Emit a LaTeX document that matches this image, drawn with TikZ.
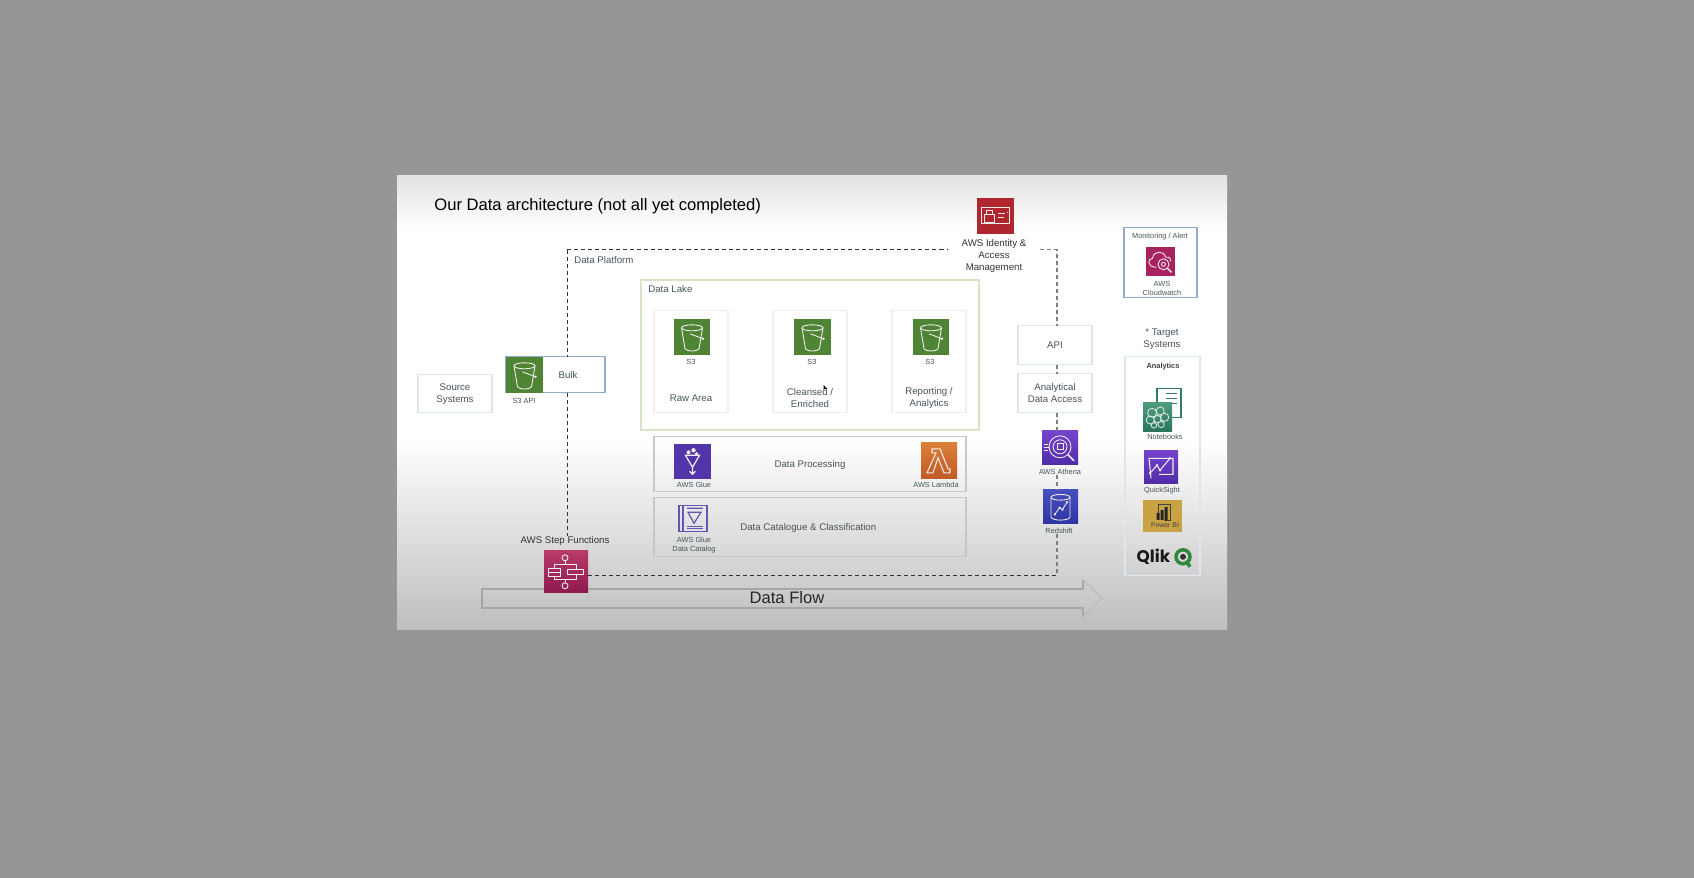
\documentclass[tikz,border=0pt]{standalone}
\usepackage{fontspec}
\setmainfont{Liberation Sans}
\newfontfamily\qlikfont{Poppins}
\usetikzlibrary{positioning}

\definecolor{pagegrey}{HTML}{969696}
\definecolor{slidetop}{HTML}{E2E2E2}
\definecolor{slidebot}{HTML}{BEBEBE}
\definecolor{labelink}{HTML}{45545C}
\definecolor{paleblue}{HTML}{DCE6F0}
\definecolor{midblue}{HTML}{95A8CE}
\definecolor{palegreen}{HTML}{D6E5C6}
\definecolor{paleorange}{HTML}{F6EDE6}
\definecolor{dashgrey}{HTML}{7E7E7E}
\definecolor{lakegreen}{HTML}{4F8434}
\definecolor{iamred}{HTML}{B0262F}
\definecolor{glyphink}{HTML}{F2ECEC}
\definecolor{cataloginv}{HTML}{6656B2}
\definecolor{gluepurple}{HTML}{5235A8}
\definecolor{lambdatop}{HTML}{DC7F38}
\definecolor{lambdabot}{HTML}{C05A24}
\definecolor{steptop}{HTML}{B73A6A}
\definecolor{stepbot}{HTML}{8E1A4E}
\definecolor{watchred}{HTML}{A8225F}
\definecolor{lenstop}{HTML}{7444CC}
\definecolor{lensbot}{HTML}{4F2CA8}
\definecolor{shifttop}{HTML}{4750C0}
\definecolor{shiftbot}{HTML}{2E35A2}
\definecolor{powergold}{HTML}{C9A343}
\definecolor{notetop}{HTML}{4E9C7C}
\definecolor{notebot}{HTML}{27765A}
\definecolor{notegreen}{HTML}{2F7F60}
\definecolor{qlikgreen}{HTML}{2F8A3C}

\pgfdeclareverticalshading{slideshade}{100bp}{color(0bp)=(slidebot); color(25bp)=(slidebot); color(46bp)=(white); color(69bp)=(white); color(75bp)=(slidetop); color(100bp)=(slidetop)}

\tikzset{
    sized/.style 2 args={minimum width=#1*0.02cm, minimum height=#2*0.02cm, inner sep=0pt, outer sep=0pt},
    lbl/.style={inner sep=0pt, yshift=-0.15pt, align=center, text=labelink, font=\fontsize{5.5}{6.8}\selectfont},
    tinylbl/.style={inner sep=0pt, yshift=-0.25pt, align=center, text=labelink, font=\fontsize{4.2}{5.1}\selectfont},
    darklbl/.style={lbl, text=black!80},
    softbox/.style={draw=paleblue, line width=0.6pt},
    stagebox/.style={draw=paleorange, line width=0.6pt},
    greybox/.style={draw=black!22, line width=0.6pt},
    blueedge/.style={draw=midblue, line width=0.7pt},
    flowedge/.style={draw=black!35, line width=0.8pt},
    platformline/.style={line width=0.55pt, dash pattern=on 2.3pt off 1.7pt, draw=black!80},
    rightline/.style={line width=0.7pt, dash pattern=on 2.3pt off 1.7pt, draw=dashgrey},
    glyph/.style={draw=glyphink, line width=0.5pt},
    bucket/.pic={
        \draw[glyph] (0,-9) ellipse [x radius=10.5, y radius=3];
        \draw[glyph] (-10.5,-9) -- (-7,12) .. controls (-5,15) and (5,15) .. (7,12) -- (10.5,-9);
        \draw[glyph] (-2,-3) -- (11,2);
        \fill[glyphink] (11,2) circle (1.3);
    },
    idcard/.pic={
        \draw[glyph, line width=0.6pt] (-14,-8) rectangle (14,8);
        \draw[glyph, line width=0.6pt] (-11,-1) rectangle (-1,7);
        \draw[glyph, line width=0.6pt] (-9,-1) -- (-9,-5) -- (-3,-5) -- (-3,-1);
        \draw[glyph] (2,-2) -- (9,-2) (2,2) -- (8,2) (11,-3) -- (12,-3);
    },
    flowchart/.pic={
        \draw[glyph] (-1,-14) circle (3);
        \draw[glyph] (-1,-11) -- (-1,-7) (-12,-3) -- (-12,-7) -- (10,-7) -- (10,-2);
        \draw[glyph] (-18,-3) rectangle (-6,5) (-18,1) -- (-6,1);
        \draw[glyph] (1,-2) rectangle (17,3);
        \draw[glyph] (-12,5) -- (-12,8) -- (10,8) -- (10,3) (-1,8) -- (-1,11);
        \draw[glyph] (-1,14) circle (3);
    },
    gluefunnel/.pic={
        \draw[glyph, line width=0.7pt] (-7,-6) -- (7,-6) -- (0,6) -- cycle;
        \draw[glyph, line width=0.7pt] (0,6) -- (0,12) (-3,10) -- (0,13) -- (3,10);
        \fill[glyphink] (-4,-9) circle (2) (1,-11) circle (2.2) (4,-7.5) circle (1.8);
    },
    catalogbook/.pic={
        \draw[cataloginv, line width=0.7pt] (-10,-13) rectangle (14,13);
        \draw[cataloginv, line width=0.7pt] (-10,-13) -- (-14,-13) -- (-14,13) -- (-10,13);
        \draw[cataloginv, line width=0.7pt] (-6,-10) -- (10,-10) (-5,-6) -- (8,-6) -- (1,5) -- cycle;
        \draw[cataloginv, line width=0.7pt] (-6,8) -- (10,8) (-6,10.5) -- (10,10.5);
    },
    magnifier/.pic={
        \draw[glyph] (0,-1) circle (11) (0,-1) circle (7);
        \draw[glyph] (-3,-4) rectangle (3,2);
        \draw[glyph, line width=0.9pt] (8,7) -- (14,13);
        \draw[glyph] (-16,-3) -- (-12,-3) (-16,0) -- (-11,0) (-16,3) -- (-12,3);
    },
    cylinder/.pic={
        \draw[glyph] (0,-10) ellipse [x radius=10, y radius=3];
        \draw[glyph] (-10,-10) -- (-10,11) .. controls (-8,15) and (8,15) .. (10,11) -- (10,-10);
        \draw[glyph] (-6,8) -- (-1,1) -- (2,3) -- (7,-5);
        \fill[glyphink] (-6,8) circle (1.3) (-1,1) circle (1.3) (2,3) circle (1.3) (7,-5) circle (1.3);
    },
    lambdasign/.pic={
        \draw[glyph, line width=0.6pt] (-7,-12) -- (1,-12) -- (9,8) -- (11,8) -- (11,12) -- (5,12) -- (-1,-3) -- (-6,12) -- (-12,12) -- (-3,-8) -- (-7,-8) -- cycle;
    },
    linechart/.pic={
        \draw[glyph, line width=0.6pt] (-10,11) -- (-12,-9) -- (12,-9) -- (12,7) -- (-2,7);
        \draw[glyph, line width=0.6pt] (-11,6) -- (-4,-2) -- (-1,3) -- (9,-9);
        \fill[glyphink] (-11,6) circle (1.4) (-4,-2) circle (1.4) (-1,3) circle (1.4) (9,-9) circle (1.4);
    },
    powerbars/.pic={
        \draw[black!75, line width=0.5pt] (-4,-3) -- (-4,-11) -- (8,-11) -- (8,5) -- (5,5);
        \fill[black!85] (-6,-3) rectangle (-3,4) (-2,-6) rectangle (1,4) (2,-9) rectangle (5,5);
    },
    brainglyph/.pic={
        \draw[draw=white!80!notegreen, line width=0.5pt] (-6,-5) circle (5) (3,-7) circle (4.5) (8,0) circle (4.5) (-8,3) circle (4.5) (0,2) circle (4) (4,8) circle (3.5) (-4,9) circle (3);
    },
    cloudlens/.pic={
        \draw[glyph] (-4,6) .. controls (-14,6) and (-13,-3) .. (-8,-3) .. controls (-7,-11) and (4,-11) .. (5,-4) .. controls (9,-5) and (11,-2) .. (10,0);
        \draw[glyph] (3,3) circle (5.5) (3,3) circle (2);
        \draw[glyph, line width=0.8pt] (7,7) -- (11,11);
    },
}

\begin{document}
\begin{tikzpicture}[x=0.02cm, y=-0.02cm]
    \fill[pagegrey] (0,0) rectangle (1694,878);
    \begin{scope}[shift={(0,0.8)}]
    \path[shading=slideshade] (397,175) rectangle (1227,629);

    \node[anchor=west, inner sep=0pt, yshift=-0.75pt, font=\fontsize{9.45}{11}\selectfont] (pagetitle) at (434,204) {Our Data architecture (not all yet completed)};

    \coordinate (platformtl) at (567,249);
    \coordinate (platformtr) at (1057,249);
    \coordinate (platformbr) at (1057,575);

    \draw[flowedge, line join=miter] (1083,579) -- (1083,588) -- (482,588) -- (482,607) -- (1083,607) -- (1083,616);
    \draw[black!28, line width=0.5pt] (1083,579) -- (1102,597.5) -- (1083,616);
    \node[inner sep=0pt, yshift=-0.15pt, font=\fontsize{9.45}{11}\selectfont, text=black!85] (flowname) at (787,597) {Data Flow};

    \node[softbox, sized={74}{38}] (sourcebox) at (455,393) {};
    \node[lbl] (sourcename) at (455,393) {Source\\Systems};
    \node[blueedge, sized={99}{36}] (bulkbox) at (555.5,374) {};
    \node[lbl] (bulkname) at (568,374) {Bulk};
    \node[fill=lakegreen, sized={37}{36}] (apiicon) at (524.5,374) {};
    \pic at (apiicon) {bucket};
    \node[tinylbl] (apiname) at (524,400) {S3 API};

    \draw[draw=palegreen, line width=0.8pt] (641,279) rectangle (979,429);
    \node[lbl, anchor=west] (lakename) at (648,288) {Data Lake};
    \node[lbl, anchor=west] (platformname) at (574,259) {Data Platform};

    \node[stagebox, sized={74}{102}] (rawbox) at (691,361) {};
    \node[stagebox, sized={74}{102}] (cleanbox) at (810,361) {};
    \node[stagebox, sized={74}{102}] (reportbox) at (929,361) {};
    \node[fill=lakegreen, sized={36}{36}] (rawicon) at (692,336) {};
    \node[fill=lakegreen, sized={37}{36}] (cleanicon) at (812.5,336) {};
    \node[fill=lakegreen, sized={36}{36}] (reporticon) at (931,336) {};
    \pic at (rawicon) {bucket};
    \pic at (cleanicon) {bucket};
    \pic at (reporticon) {bucket};
    \node[tinylbl] (rawsthree) at (691,361) {S3};
    \node[tinylbl] (cleansthree) at (812,361) {S3};
    \node[tinylbl] (reportsthree) at (930,361) {S3};
    \node[lbl] (rawname) at (691,397) {Raw Area};
    \node[lbl] (cleanname) at (810,397) {Cleansed /\\Enriched};
    \node[lbl] (reportname) at (929,397) {Reporting /\\Analytics};
    \fill[black] (823.5,384) -- (823.5,389) -- (825,388) -- (827,388) -- cycle;

    \node[greybox, sized={312}{55}] (processbox) at (810,463.5) {};
    \node[greybox, sized={312}{59}] (catalogbox) at (810,526.5) {};
    \node[lbl] (processname) at (810,464) {Data Processing};
    \node[lbl, anchor=west] (catalogname) at (740,527) {Data Catalogue \& Classification};
    \node[sized={37}{35}, fill=gluepurple] (glueicon) at (692.5,460.5) {};
    \pic at (glueicon) {gluefunnel};
    \node[tinylbl] (gluename) at (694,484) {AWS Glue};
    \coordinate (bookmark) at (693,517.5);
    \pic at (bookmark) {catalogbook};
    \node[tinylbl] (catalogicon) at (694,543.5) {AWS Glue\\Data Catalog};
    \node[sized={36}{36}, top color=lambdatop, bottom color=lambdabot] (lambdaicon) at (939,460) {};
    \pic at (lambdaicon) {lambdasign};
    \node[tinylbl] (lambdaname) at (936,484) {AWS Lambda};

    \node[darklbl] (stepname) at (565,540) {AWS Step Functions};
    \node[sized={44}{42}, top color=steptop, bottom color=stepbot] (stepicon) at (566,571) {};
    \pic at (stepicon) {flowchart};

    \node[fill=iamred, sized={37}{36}] (iamicon) at (995.5,215) {};
    \pic at (iamicon) {idcard};
    \node[darklbl] (iamname) at (994,255) {AWS Identity \&\\Access\\Management};

    \node[blueedge, sized={73}{70}] (monitorbox) at (1160.5,262) {};
    \node[tinylbl] (monitorname) at (1160,235) {Monitoring / Alert};
    \node[fill=watchred, sized={29}{29}] (watchicon) at (1160.5,260.5) {};
    \pic at (watchicon) {cloudlens};
    \node[tinylbl] (watchname) at (1162,287.5) {AWS\\Cloudwatch};

    \node[softbox, sized={74}{39}] (apibox) at (1055,344.5) {};
    \node[lbl] (apiname2) at (1055,344) {API};
    \node[softbox, sized={74}{39}] (accessbox) at (1055,392.5) {};
    \node[lbl] (accessname) at (1055,392) {Analytical\\Data Access};
    \node[sized={36}{34}, top color=lenstop, bottom color=lensbot] (athenaicon) at (1060,447) {};
    \pic at (athenaicon) {magnifier};
    \node[tinylbl] (athenaname) at (1060,471) {AWS Athena};
    \node[sized={35}{34}, top color=shifttop, bottom color=shiftbot] (redshifticon) at (1060.5,506) {};
    \pic[scale=0.95] at (redshifticon) {cylinder};
    \node[tinylbl] (redshiftname) at (1059,530) {Redshift};

    \node[lbl] (targetname) at (1162,338) {* Target\\Systems};
    \node[softbox, sized={75}{219}] (targetbox) at (1162.5,465.5) {};
    \node[tinylbl, font=\fontsize{4.2}{5.1}\selectfont\bfseries, text=black!75] (analyticsname) at (1163,365) {Analytics};
    \node[fill=white, draw=notegreen, line width=0.6pt, sized={24}{29}] (notedoc) at (1169,402) {};
    \draw[notegreen, line width=0.6pt] (1166,393) -- (1177,393) (1166,398) -- (1177,398) (1166,403) -- (1177,403) (1157,391) -- (1157,410);
    \node[sized={29}{29}, top color=notetop, bottom color=notebot] (noteicon) at (1157.5,416.5) {};
    \pic[scale=0.9] at (noteicon) {brainglyph};
    \node[tinylbl] (notename) at (1165,436) {Notebooks};
    \node[sized={34}{33}, top color=lenstop, bottom color=lensbot] (quickicon) at (1161,466.5) {};
    \pic at (quickicon) {linechart};
    \node[tinylbl] (quickname) at (1162,489) {QuickSight};
    \node[fill=powergold, sized={39}{32}] (powericon) at (1162.5,515) {};
    \pic at (powericon) {powerbars};
    \node[inner sep=0pt, yshift=-0.2pt, text=black!75, font=\fontsize{3.9}{5}\selectfont] (powername) at (1165,524) {Power BI};
    \node[inner sep=0pt, text=black!90, font=\qlikfont\fontsize{9.6}{12}\selectfont\bfseries] (qlikname) at (1153.5,556) {Qlik};
    \node[circle, draw=qlikgreen, line width=2pt, minimum size=0.28cm, inner sep=0pt] (qlikring) at (1183,556) {};
    \fill[black!80] (qlikring) circle (3);
    \draw[qlikgreen, line width=2pt] (qlikring) ++(3,4) -- ++(4,6);

    \draw[platformline] (platformtl) -- (947,249);
    \draw[platformline] (platformtl) -- (platformtl |- bulkbox.north);
    \draw[platformline] (platformtl |- bulkbox.south) -- (platformtl |- stepname.north);
    \draw[platformline] (stepicon.east |- platformbr) -- (platformbr);
    \draw[rightline] (1040,249) -- (platformtr) -- (apibox.north -| platformtr);
    \draw[rightline] (apibox.south -| platformtr) -- (accessbox.north -| platformtr);
    \draw[rightline] (accessbox.south -| platformtr) -- (athenaicon.north -| platformtr);
    \draw[rightline] (athenaname.south -| platformtr) -- (redshifticon.north -| platformtr);
    \draw[rightline] (redshiftname.south -| platformtr) -- (platformbr);
    \end{scope}
\end{tikzpicture}
\end{document}
